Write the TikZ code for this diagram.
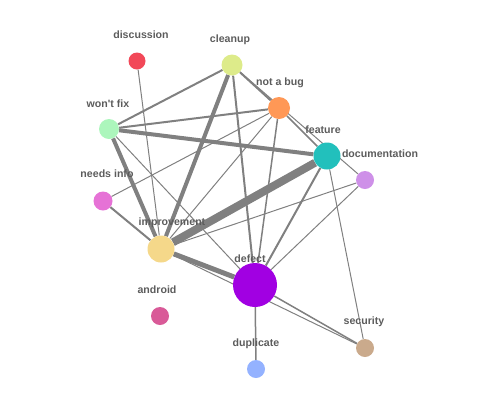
\documentclass[tikz,border=0pt]{standalone}
\usepackage{fontspec}
\setmainfont{Liberation Sans}
\usetikzlibrary{backgrounds}

\definecolor{edgegray}{RGB}{128,128,128}
\definecolor{lblgray}{RGB}{92,92,92}
\definecolor{cdiscussion}{RGB}{242,72,88}
\definecolor{ccleanup}{RGB}{221,235,138}
\definecolor{cnotabug}{RGB}{255,152,86}
\definecolor{cwontfix}{RGB}{172,246,188}
\definecolor{cfeature}{RGB}{34,192,188}
\definecolor{cdoc}{RGB}{206,144,232}
\definecolor{cneedsinfo}{RGB}{230,114,214}
\definecolor{cimprovement}{RGB}{245,216,138}
\definecolor{cdefect}{RGB}{161,0,226}
\definecolor{candroid}{RGB}{217,90,152}
\definecolor{csecurity}{RGB}{202,170,140}
\definecolor{cduplicate}{RGB}{148,178,255}

\begin{document}
\begin{tikzpicture}[x=1pt,y=-1pt,
        tag/.style={circle,inner sep=0pt,minimum size=#1},
        lbl/.style={font=\bfseries\fontsize{10.6}{12}\selectfont,text=lblgray,inner sep=0pt},
        link/.style={draw=edgegray,line width=#1},
        link/.default=1pt]
    \useasboundingbox (0,0) rectangle (500,400);

    % issue labels (circles)
    \node[tag=17pt,fill=cdiscussion]   (discussion)  at (137,61)  {};
    \node[tag=21pt,fill=ccleanup]      (cleanup)     at (232,65)  {};
    \node[tag=22pt,fill=cnotabug]      (notabug)     at (279,108) {};
    \node[tag=20pt,fill=cwontfix]      (wontfix)     at (109,129) {};
    \node[tag=27pt,fill=cfeature]      (feature)     at (327,156) {};
    \node[tag=18pt,fill=cdoc]          (doc)         at (365,180) {};
    \node[tag=19pt,fill=cneedsinfo]    (needsinfo)   at (103,201) {};
    \node[tag=27pt,fill=cimprovement]  (improvement) at (161,249) {};
    \node[tag=44pt,fill=cdefect]       (defect)      at (255,285) {};
    \node[tag=18pt,fill=candroid]      (android)     at (160,316) {};
    \node[tag=18pt,fill=csecurity]     (security)    at (365,348) {};
    \node[tag=18pt,fill=cduplicate]    (duplicate)   at (256,369) {};

    % names
    \node[lbl] (discussion-t)  at (141,35)  {discussion};
    \node[lbl] (cleanup-t)     at (230,40)  {cleanup};
    \node[lbl] (notabug-t)     at (280,83)  {not a bug};
    \node[lbl] (wontfix-t)     at (108,104) {won\textquotesingle t fix};
    \node[lbl] (needsinfo-t)   at (107,174) {needs info};
    \node[lbl] (feature-t)     at (323,130) {feature};
    \node[lbl] (doc-t)         at (380,154) {documentation};
    \node[lbl] (improvement-t) at (172,223) {improvement};
    \node[lbl] (defect-t)      at (250,259) {defect};
    \node[lbl] (android-t)     at (157,290) {android};
    \node[lbl] (security-t)    at (364,322) {security};
    \node[lbl] (duplicate-t)   at (256,344) {duplicate};

    \begin{scope}[on background layer]
        \draw[link] (discussion) -- (improvement);
        \draw[link=2pt] (cleanup) -- (wontfix);
        \draw[link=4pt] (cleanup) -- (improvement);
        \draw[link=2pt] (cleanup) -- (defect);
        \draw[link=2pt] (cleanup) -- (notabug);
        \draw[link] (cleanup) -- (doc);
        \draw[link=1.5pt] (notabug) -- (feature);
        \draw[link=2pt] (notabug) -- (wontfix);
        \draw[link] (notabug) -- (needsinfo);
        \draw[link] (notabug) -- (improvement);
        \draw[link=1.5pt] (notabug) -- (defect);
        \draw[link=4pt] (wontfix) -- (feature);
        \draw[link=4pt] (wontfix) -- (improvement);
        \draw[link] (wontfix) -- (defect);
        \draw[link=2pt] (needsinfo) -- (improvement);
        \draw[link=8pt] (improvement) -- (feature);
        \draw[link=5pt] (improvement) -- (defect);
        \draw[link] (improvement) -- (doc);
        \draw[link] (improvement) -- (security);
        \draw[link=2pt] (feature) -- (defect);
        \draw[link] (feature) -- (security);
        \draw[link] (defect) -- (doc);
        \draw[link=1.5pt] (defect) -- (duplicate);
        \draw[link=1.5pt] (defect) -- (security);
    \end{scope}
\end{tikzpicture}
\end{document}
